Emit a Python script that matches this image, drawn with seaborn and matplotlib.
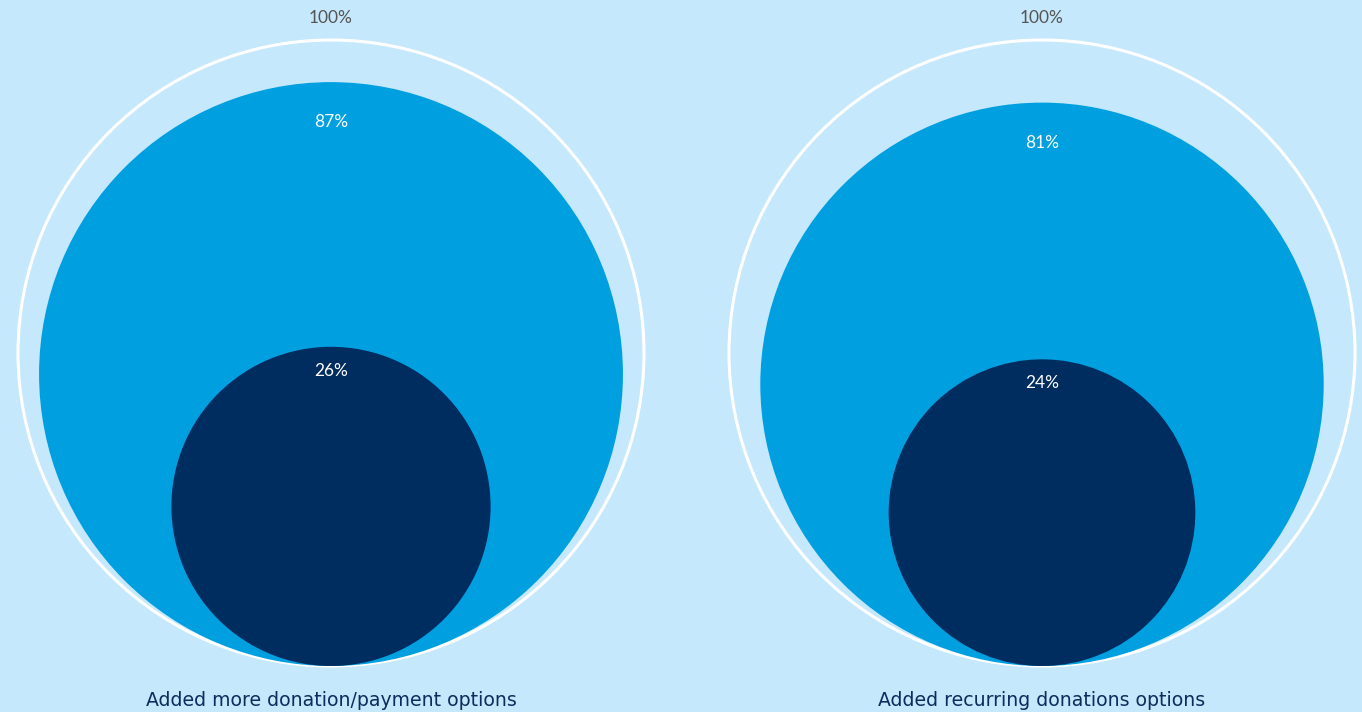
import numpy as np
import matplotlib
matplotlib.use("Agg")
import matplotlib.pyplot as plt
from matplotlib.patches import Circle
import seaborn as sns

# Survey shares, shown as nested area-proportional circles
categories = ["Added more donation/payment options", "Added recurring donations options"]
total_pct = [100, 100]
outer_pct = [87, 81]
inner_pct = [26, 24]
pct_labels_total = ["100%", "100%"]
pct_labels_outer = ["87%", "81%"]
pct_labels_inner = ["26%", "24%"]

BG = "#C5E8FC"
MID = "#00A0E0"
DARK = "#002D5F"

sns.set_theme(style="white")
plt.rcParams["font.family"] = ["Lato", "DejaVu Sans"]

fig = plt.figure(figsize=(13.62, 7.12), dpi=100, facecolor=BG)
ax = fig.add_axes([0, 0, 1, 1])
ax.set_facecolor(BG)
ax.set_xlim(0, 1362)
ax.set_ylim(712, 0)
ax.set_aspect("equal")
ax.axis("off")

centers_x = [331, 1042]
base_y = 666      # common bottom of every circle
R = 313           # radius of the 100% circle


def rad(p):
    return R * np.sqrt(p / 100.0)


for i, cx in enumerate(centers_x):
    r0, r1, r2 = rad(total_pct[i]), rad(outer_pct[i]), rad(inner_pct[i])
    ax.add_patch(Circle((cx, base_y - r0), r0, facecolor="none",
                        edgecolor="white", lw=2.2, zorder=1))
    ax.add_patch(Circle((cx, base_y - r1), r1, facecolor=MID,
                        edgecolor="none", zorder=2))
    ax.add_patch(Circle((cx, base_y - r2), r2, facecolor=DARK,
                        edgecolor="none", zorder=3))

    ax.text(cx, base_y - 2 * r0 - 22, pct_labels_total[i], ha="center",
            va="center", color="#555555", fontsize=12.5, zorder=4)
    ax.text(cx, base_y - 2 * r1 + 40, pct_labels_outer[i], ha="center",
            va="center", color="white", fontsize=12.5, zorder=4)
    ax.text(cx, base_y - 2 * r2 + 24, pct_labels_inner[i], ha="center",
            va="center", color="white", fontsize=12.5, zorder=4)
    ax.text(cx, 701, categories[i], ha="center", va="center",
            color="#0B2E5E", fontsize=13.6, family="DejaVu Sans", zorder=4)

fig.savefig("out.png", dpi=100, facecolor=BG)
